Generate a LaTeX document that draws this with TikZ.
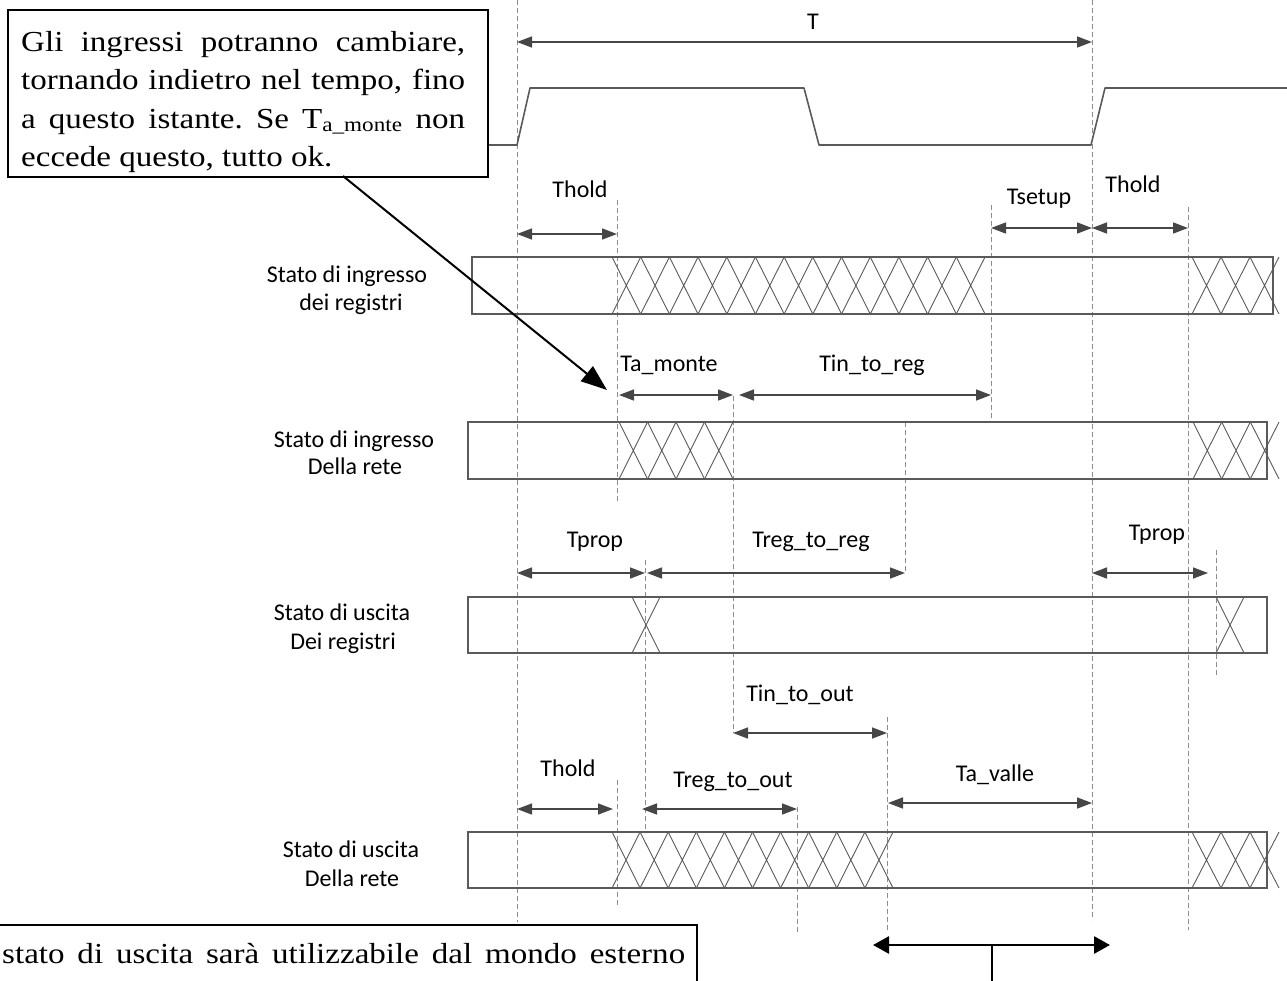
\documentclass[tikz,border=0pt]{standalone}
\usepackage{fontspec}
\setmainfont{Liberation Serif}[FakeStretch=1.14]
\newfontfamily\carl{Carlito}
\usetikzlibrary{arrows.meta}
\definecolor{ln}{HTML}{5A5A5A}
\definecolor{dimc}{HTML}{464646}
\definecolor{dsh}{HTML}{8C8C8C}
\tikzset{
 guide/.style={draw=dsh, line width=0.9pt, dash pattern=on 5pt off 3pt},
 dim/.style={draw=dimc, line width=1.5pt, {Triangle[length=15pt,width=11pt]}-{Triangle[length=15pt,width=11pt]}},
 lab/.style={font=\carl\fontsize{24}{29}\selectfont, inner sep=0pt, anchor=base},
 sig/.style={draw=ln, line width=1.2pt},
 hatchline/.style={draw=ln, line width=0.9pt},
 clk/.style={draw=ln, line width=1.6pt, line join=round},
 callout/.style={draw=black, line width=1.8pt, fill=white, inner sep=0pt},
 ctext/.style={font=\frenchspacing\fontsize{29}{38}\selectfont, inner sep=0pt, anchor=base west},
 pointer/.style={draw=black, line width=2pt, -{Triangle[length=26pt,width=19pt]}},
 bigdim/.style={draw=black, line width=2.7pt, {Triangle[length=16pt,width=17pt]}-{Triangle[length=16pt,width=17pt]}},
 stem/.style={draw=black, line width=2.7pt},
}
\newcommand\xhatch[5]{%
  \pgfmathsetmacro\hcw{(#2-#1)/#3}%
  \foreach \k in {1,...,#3}{%
    \draw[hatchline] ({#1+(\k-1)*\hcw},#4) -- ({#1+\k*\hcw},#5)
                     ({#1+(\k-1)*\hcw},#5) -- ({#1+\k*\hcw},#4);
  }}
\begin{document}
\begin{tikzpicture}[x=1pt,y=-1pt]
\useasboundingbox (0,0) rectangle (1287,980);

% guide lines
\draw[guide] (517,0) -- (517,922);
\draw[guide] (1092,0) -- (1092,920);
\draw[guide] (617,200) -- (617,503);
\draw[guide] (991,205) -- (991,420);
\draw[guide] (1188,207) -- (1188,930);
\draw[guide] (733,396) -- (733,733);
\draw[guide] (905,422) -- (905,572);
\draw[guide] (645,560) -- (645,830);
\draw[guide] (1216,550) -- (1216,677);
\draw[guide] (887,717) -- (887,932);
\draw[guide] (797,807) -- (797,933);
\draw[guide] (617,780) -- (617,905);

% clock
\draw[clk] (487,145) -- (517,145) -- (530,88) -- (804,88) -- (819,145) -- (1091,145) -- (1105,88) -- (1287,88);

% rows
\draw[sig] (472,257) rectangle (1273,314);
\xhatch{612}{985}{13}{257}{314}
\xhatch{1192}{1279}{3}{257}{314}

\draw[sig] (468,422) rectangle (1267,479);
\xhatch{619}{733}{4}{422}{479}
\xhatch{1193}{1279}{3}{422}{479}

\draw[sig] (468,597) rectangle (1267,653);
\xhatch{632}{660}{1}{597}{653}
\xhatch{1216}{1244}{1}{597}{653}

\draw[sig] (468,832) rectangle (1267,888);
\xhatch{612}{893}{10}{832}{888}
\xhatch{1192}{1279}{3}{832}{888}

% row labels
\node[lab] (r1a) at (347,282) {Stato di ingresso};
\node[lab] (r1b) at (351,310) {dei registri};
\node[lab] (r2a) at (354,447) {Stato di ingresso};
\node[lab] (r2b) at (355,474) {Della rete};
\node[lab] (r3a) at (342,620) {Stato di uscita};
\node[lab] (r3b) at (343,649) {Dei registri};
\node[lab] (r4a) at (351,857) {Stato di uscita};
\node[lab] (r4b) at (352,886) {Della rete};

% dimension coordinates
\coordinate (T1) at (517,42);   \coordinate (T2) at (1092,42);
\coordinate (h1a) at (517,234); \coordinate (h1b) at (617,234);
\coordinate (su1) at (991,228); \coordinate (su2) at (1092,228);
\coordinate (h2a) at (1092,228);\coordinate (h2b) at (1188,228);
\coordinate (am1) at (619,395); \coordinate (am2) at (733,395);
\coordinate (ir1) at (739,395); \coordinate (ir2) at (991,395);
\coordinate (p1a) at (517,573); \coordinate (p1b) at (645,573);
\coordinate (rr1) at (647,573); \coordinate (rr2) at (905,573);
\coordinate (p2a) at (1092,573);\coordinate (p2b) at (1208,573);
\coordinate (io1) at (733,733); \coordinate (io2) at (887,733);
\coordinate (h3a) at (517,809); \coordinate (h3b) at (613,809);
\coordinate (ro1) at (642,809); \coordinate (ro2) at (797,809);
\coordinate (av1) at (888,803); \coordinate (av2) at (1092,803);

\draw[dim] (T1) -- (T2);
\draw[dim] (h1a) -- (h1b);
\draw[dim] (su1) -- (su2);
\draw[dim] (h2a) -- (h2b);
\draw[dim] (am1) -- (am2);
\draw[dim] (ir1) -- (ir2);
\draw[dim] (p1a) -- (p1b);
\draw[dim] (rr1) -- (rr2);
\draw[dim] (p2a) -- (p2b);
\draw[dim] (io1) -- (io2);
\draw[dim] (h3a) -- (h3b);
\draw[dim] (ro1) -- (ro2);
\draw[dim] (av1) -- (av2);

% dimension labels
\node[lab] (lT) at (813,29) {T};
\node[lab] (lh1) at (580,197) {Thold};
\node[lab] (lsu) at (1039,204) {Tsetup};
\node[lab] (lh2) at (1133,192) {Thold};
\node[lab] (lam) at (669,371) {Ta\_monte};
\node[lab] (lir) at (872,371) {Tin\_to\_reg};
\node[lab] (lp1) at (595,547) {Tprop};
\node[lab] (lrr) at (811,547) {Treg\_to\_reg};
\node[lab] (lp2) at (1157,540) {Tprop};
\node[lab] (lio) at (800,701) {Tin\_to\_out};
\node[lab] (lh3) at (568,776) {Thold};
\node[lab] (lro) at (733,787) {Treg\_to\_out};
\node[lab] (lav) at (995,781) {Ta\_valle};

% top callout
\node[callout, anchor=north west, minimum width=480pt, minimum height=167pt] (cbox) at (7,9) {};
\node[ctext] (c1) at (21,51) {\makebox[444pt][s]{Gli ingressi potranno cambiare,}};
\node[ctext] (c2) at (21,89.5) {\makebox[444pt][s]{tornando indietro nel tempo, fino}};
\node[ctext] (c3) at (21,128) {\makebox[444pt][s]{a questo istante. Se T\textsubscript{a\_monte} non}};
\node[ctext] (c4) at (21,166.5) {eccede questo, tutto ok.};
\coordinate (pstart) at (343,176);
\coordinate (ptip) at (607,390);
\draw[pointer] (pstart) -- (ptip);

% bottom callout
\node[callout, anchor=north east, minimum width=730pt, minimum height=100pt] (cbox2) at (698,924) {};
\node[ctext] (c5) at (2,963) {\makebox[683pt][s]{stato di uscita sarà utilizzabile dal mondo esterno}};

% bottom double arrow
\coordinate (ba1) at (873,945);
\coordinate (ba2) at (1110,945);
\coordinate (bs1) at (992,945);
\coordinate (bs2) at (992,990);
\draw[bigdim] (ba1) -- (ba2);
\draw[stem] (bs1) -- (bs2);
\end{tikzpicture}
\end{document}
